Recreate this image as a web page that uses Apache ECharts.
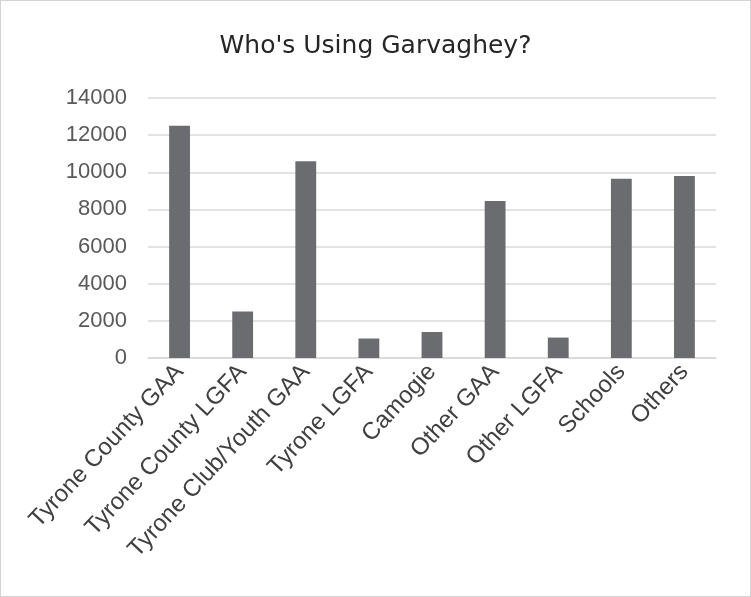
<!DOCTYPE html>
<html>
<head>
<meta charset="utf-8">
<script src="https://cdn.jsdelivr.net/npm/echarts@6/dist/echarts.min.js"></script>
<style>
html,body{margin:0;padding:0;background:#fff;}
#chart{width:751px;height:597px;box-sizing:border-box;border:1px solid #d4d4d4;}
</style>
</head>
<body>
<div id="chart"></div>
<script>
const categories = ["Tyrone County GAA","Tyrone County LGFA","Tyrone Club/Youth GAA","Tyrone LGFA","Camogie","Other GAA","Other LGFA","Schools","Others"];
const values = [12500, 2500, 10600, 1050, 1400, 8450, 1100, 9650, 9800];
const titleText = "Who's Using Garvaghey?";

const chart = echarts.init(document.getElementById('chart'));
chart.setOption({
  animation: false,
  title: {
    text: titleText,
    left: 'center',
    top: 28,
    textStyle: {fontFamily: 'DejaVu Sans', fontSize: 25, fontWeight: 'normal', color: '#262626'}
  },
  grid: {left: 147, right: 34, top: 97, bottom: 238, containLabel: false},
  xAxis: {
    type: 'category',
    data: categories,
    axisLine: {lineStyle: {color: '#d9d9d9', width: 1.5}},
    axisTick: {show: false},
    axisLabel: {rotate: 47, interval: 0, margin: 10, fontFamily: 'Liberation Sans', fontSize: 24, color: '#404040'}
  },
  yAxis: {
    type: 'value',
    min: 0, max: 14000, interval: 2000,
    axisLine: {show: false},
    axisTick: {show: false},
    splitLine: {lineStyle: {color: '#d9d9d9', width: 1.5}},
    axisLabel: {margin: 21, fontFamily: 'Liberation Sans', fontSize: 22, color: '#595959', formatter: v => String(v)}
  },
  series: [{
    type: 'bar',
    data: values,
    barWidth: '33%',
    itemStyle: {color: '#6b6c70'}
  }]
});
</script>
</body>
</html>
